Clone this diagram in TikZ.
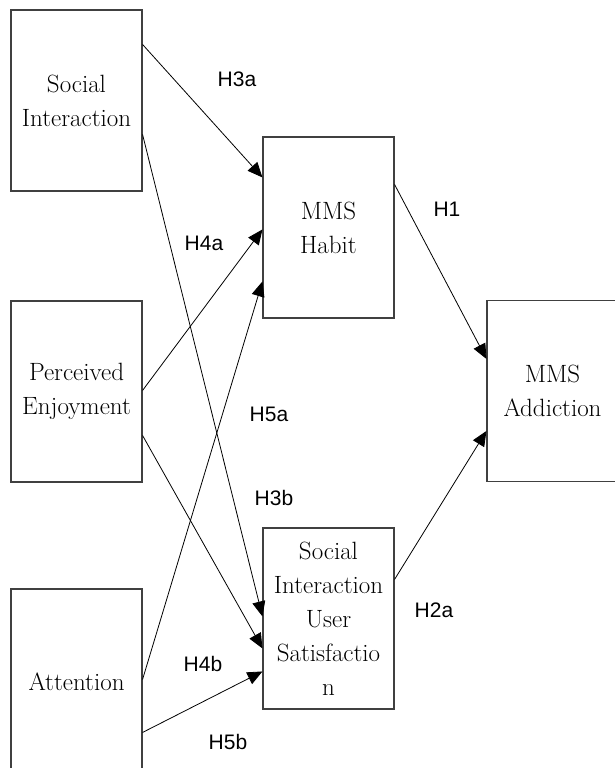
\documentclass[tikz,border=0pt]{standalone}
\usepackage{fontspec}
\newfontfamily\labelfont{Liberation Sans}
\usetikzlibrary{arrows.meta}
\begin{document}
\begin{tikzpicture}[x=1pt,y=-1pt,
  box/.style={draw=black!75, line width=1.1pt, minimum width=131pt, minimum height=181pt,
    inner sep=0pt, align=center, font=\fontsize{25}{34}\selectfont},
  link/.style={line width=0.8pt, -{Triangle[length=15pt,width=13pt]}},
  hyp/.style={font=\labelfont\fontsize{21}{24}\selectfont, inner sep=0pt}]
\useasboundingbox (0,0) rectangle (614,768);
% boxes
\node[box] (si) at (76.5,100.5) {Social\\Interaction};
\node[box] (pe) at (76.5,391.5) {Perceived\\Enjoyment};
\node[box, minimum height=186pt] (at) at (76.5,682) {Attention};
\node[box] (hab) at (328.5,227.5) {MMS\\Habit};
\node[box] (sat) at (328.5,618.5) {Social\\Interaction\\User\\Satisfactio\\n};
\node[box] (add) at (552.5,391) {MMS\\Addiction};
% connectors
\draw[link] ([yshift=-35pt]si.north east) -- ([yshift=-41pt]hab.north west);
\draw[link] ([yshift=-125pt]si.north east) -- ([yshift=-89pt]sat.north west);
\draw[link] ([yshift=-90pt]pe.north east) -- ([yshift=-93pt]hab.north west);
\draw[link] ([yshift=-135pt]pe.north east) -- ([yshift=-121pt]sat.north west);
\draw[link] ([yshift=-91pt]at.north east) -- ([yshift=-145pt]hab.north west);
\draw[link] ([yshift=-144pt]at.north east) -- ([yshift=-144pt]sat.north west);
\draw[link] ([yshift=-48pt]hab.north east) -- ([yshift=-59pt]add.north west);
\draw[link] ([yshift=-52pt]sat.north east) -- ([yshift=-131pt]add.north west);
% labels
\node[hyp] (l3a) at (237,79) {H3a};
\node[hyp] (l4a) at (204,243) {H4a};
\node[hyp] (l1) at (447,209) {H1};
\node[hyp] (l5a) at (269,414) {H5a};
\node[hyp] (l3b) at (274,498) {H3b};
\node[hyp] (l4b) at (203,664) {H4b};
\node[hyp] (l5b) at (228,742) {H5b};
\node[hyp] (l2a) at (434,610) {H2a};
\end{tikzpicture}
\end{document}
